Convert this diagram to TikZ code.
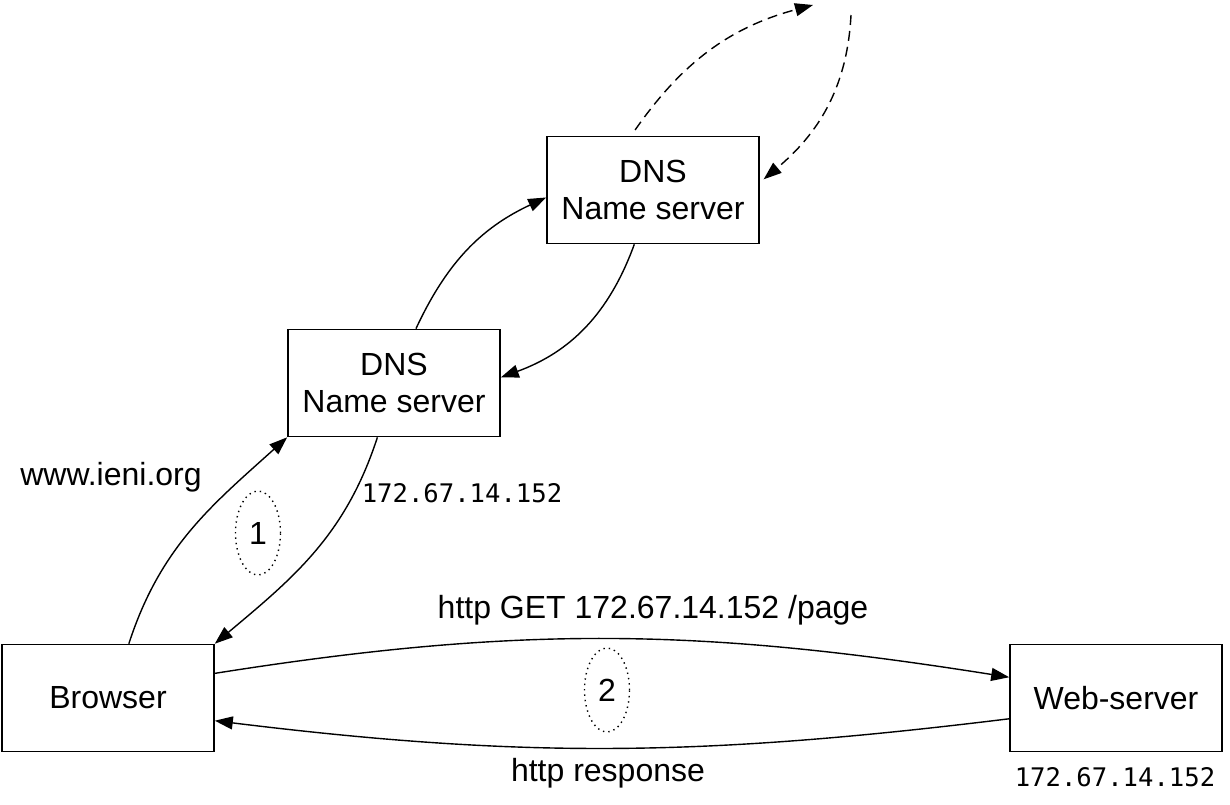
\documentclass[tikz,border=0pt]{standalone}
\usepackage{fontspec}
\setmainfont{Liberation Sans}
\setmonofont{DejaVu Sans Mono}
\usetikzlibrary{arrows.meta,shapes.geometric}

\begin{document}
\begin{tikzpicture}[x=0.5pt,y=-0.5pt,
    box/.style={draw, line width=0.8pt, minimum width=106pt, minimum height=53.5pt,
        align=center, font=\fontsize{16}{18.5}\selectfont},
    link/.style={line width=0.7pt, -{Triangle[length=9pt,width=6.5pt]}},
    far/.style={link, dash pattern=on 5pt off 3pt},
    phase/.style={draw, dotted, ellipse, line width=0.7pt, minimum width=22.5pt,
        minimum height=42pt, inner sep=0pt, font=\fontsize{16}{18.5}\selectfont},
    lbl/.style={font=\fontsize{16}{18.5}\selectfont},
    addr/.style={font=\ttfamily\fontsize{12.8}{15}\selectfont}]
    \useasboundingbox (0,0) rectangle (1230,804);
    % boxes
    \node[box] (browser) at (108,698) {Browser};
    \node[box] (web) at (1116,698) {Web-server};
    \node[box] (dnsA) at (394,383) {DNS\\Name server};
    \node[box] (dnsB) at (653,190) {DNS\\Name server};
    \coordinate (upA) at (813,5);
    \coordinate (upB) at (851,15);
    % lookup
    \draw[link] (browser.69) to[out=72,in=222] (dnsA.south west);
    \draw[link] (dnsA.253) to[out=-108,in=40] (browser.north east);
    \draw[link] (dnsA.68) to[out=65,in=205] (dnsB.184);
    \draw[link] (dnsB.251) to[out=-110,in=20] (dnsA.3);
    \draw[far, shorten <=3.5pt] (dnsB.112) to[out=55,in=195] (upA);
    \draw[far, shorten >=2.5pt] (upB) to[out=-93,in=40] (dnsB.4);
    % http
    \draw[link] (browser.13) to[out=9,in=171] (web.169);
    \draw[link] (web.191) to[out=-173,in=-7] (browser.-12);
    % labels
    \node[lbl] (host) at (111,477) {www.ieni.org};
    \node[addr] (ipA) at (462,493) {172.67.14.152};
    \node[phase] (one) at (258,533) {1};
    \node[phase] (two) at (607,690) {2};
    \node[lbl] (get) at (653,610) {http GET 172.67.14.152 /page};
    \node[lbl] (resp) at (608,773) {http response};
    \node[addr] (ipB) at (1115,777) {172.67.14.152};
\end{tikzpicture}
\end{document}
